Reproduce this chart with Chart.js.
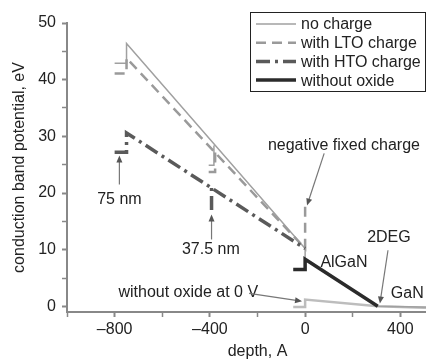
<!DOCTYPE html>
<html><head><meta charset="utf-8">
<script src="https://cdn.jsdelivr.net/npm/chart.js@4/dist/chart.umd.min.js"></script>
<style>
html,body{margin:0;padding:0;background:#fff;overflow:hidden;width:426px;height:361px}
#wrap{width:426px;height:361px;overflow:hidden;position:relative}
canvas{display:block}
</style></head>
<body><div id="wrap"><canvas id="c" width="451" height="361"></canvas></div>
<script>
// ---- series data (depth in A, potential in eV) ----
const noCharge75X = [-800, -750, -750, 0, 0, 305, 600];
const noCharge75Y = [42.9, 42.9, 46.4, 10.2, 8.3, 0, -0.2];
const noCharge37X = [-405, -383, -383];
const noCharge37Y = [24.9, 24.9, 28.4];
const lto75X = [-800, -750, -750, 0, 0];
const lto75Y = [41.1, 41.1, 43.8, 10.2, 17.6];
const lto37X = [-405, -378, -378];
const lto37Y = [23.7, 23.7, 27.2];
const hto75X = [-800, -750, -750, 0];
const hto75Y = [27.2, 27.2, 30.6, 10.2];
const hto37X = [-393, -393];
const hto37Y = [17.0, 20.9];
const noOxideX = [-50, 0, 0, 305];
const noOxideY = [6.5, 6.5, 8.3, 0];
const zeroVX = [-50, 0, 0, 305, 600];
const zeroVY = [-0.1, -0.1, 1.2, 0, -0.4];

// ---- ticks ----
const xTickValues = [-1000, -800, -600, -400, -200, 0, 200, 400, 600];
const xTickLabels = ['', '\u2013800', '', '\u2013400', '', '0', '', '400', ''];
const yTickValues = [0, 5, 10, 15, 20, 25, 30, 35, 40, 45, 50];
const yTickLabels = ['0', '', '10', '', '20', '', '30', '', '40', '', '50'];

// ---- legend / annotations ----
const legendNames = ['no charge', 'with LTO charge', 'with HTO charge', 'without oxide'];
const noteTexts = ['75 nm', '37.5 nm', 'without oxide at 0 V', 'negative fixed charge', 'AlGaN', '2DEG', 'GaN'];
const noteX = [-780, -396, -784, 163, 163, 352, 360];
const noteY = [18.9, 10.0, 2.5, 28.4, 7.8, 12.2, 2.3];
const noteAlign = ['center', 'center', 'left', 'center', 'center', 'center', 'left'];
const arrowFromX = [-780, -393, 80, 348, -235];
const arrowFromY = [21.5, 11.8, 27.0, 9.9, 2.3];
const arrowToX = [-780, -393, 8, 314, -13];
const arrowToY = [26.6, 16.2, 17.8, 0.5, 0.9];

const FONT = 'Liberation Sans, Arial, Helvetica, sans-serif';
const TXT = '#222';

function pts(xs, ys) { return xs.map((x, i) => ({x: x, y: ys[i]})); }
function joinSeg(a, b) { return a.concat([{x: b[0].x, y: null}], b); }

const datasets = [
  {label: 'without oxide', data: pts(noOxideX, noOxideY), borderColor: '#2b2b2b', borderWidth: 3.5, order: 0},
  {label: 'with HTO charge', data: joinSeg(pts(hto75X, hto75Y), pts(hto37X, hto37Y)), borderColor: '#5a5a5a', borderWidth: 3.5, borderDash: [14, 5, 3, 5], order: 1},
  {label: 'with LTO charge', data: joinSeg(pts(lto75X, lto75Y), pts(lto37X, lto37Y)), borderColor: '#9a9a9a', borderWidth: 2.5, borderDash: [10, 6], order: 2},
  {label: 'no charge', data: joinSeg(pts(noCharge75X, noCharge75Y), pts(noCharge37X, noCharge37Y)), borderColor: '#a0a0a0', borderWidth: 1.5, order: 3},
  {label: 'without oxide at 0 V', data: pts(zeroVX, zeroVY), borderColor: '#bdbdbd', borderWidth: 2.5, order: 4}
];
datasets.forEach(d => { d.pointRadius = 0; d.tension = 0; d.fill = false; d.spanGaps = false; d.borderCapStyle = 'butt'; d.borderJoinStyle = 'miter'; });

function arrow(ctx, x1, y1, x2, y2) {
  const a = Math.atan2(y2 - y1, x2 - x1), L = 7, W = 3;
  ctx.beginPath(); ctx.moveTo(x1, y1);
  ctx.lineTo(x2 - (L - 1) * Math.cos(a), y2 - (L - 1) * Math.sin(a)); ctx.stroke();
  ctx.beginPath(); ctx.moveTo(x2, y2);
  ctx.lineTo(x2 - L * Math.cos(a) + W * Math.sin(a), y2 - L * Math.sin(a) - W * Math.cos(a));
  ctx.lineTo(x2 - L * Math.cos(a) - W * Math.sin(a), y2 - L * Math.sin(a) + W * Math.cos(a));
  ctx.closePath(); ctx.fill();
}

const extras = {
  id: 'extras',
  afterDraw(chart) {
    const ctx = chart.ctx, xs = chart.scales.x, ys = chart.scales.y;
    ctx.save();
    ctx.font = '16px ' + FONT; ctx.fillStyle = TXT; ctx.textBaseline = 'middle';
    noteTexts.forEach((t, i) => {
      ctx.textAlign = noteAlign[i];
      ctx.fillText(t, xs.getPixelForValue(noteX[i]), ys.getPixelForValue(noteY[i]));
    });
    ctx.strokeStyle = '#777'; ctx.fillStyle = '#555'; ctx.lineWidth = 1.2;
    arrowFromX.forEach((v, i) => {
      arrow(ctx, xs.getPixelForValue(v), ys.getPixelForValue(arrowFromY[i]),
        xs.getPixelForValue(arrowToX[i]), ys.getPixelForValue(arrowToY[i]));
    });
    const bx = 250.5, by = 12.5, bw = 175, bh = 79, rowH = 18.7, y0 = 24;
    ctx.fillStyle = '#fff'; ctx.fillRect(bx, by, bw, bh);
    ctx.strokeStyle = '#222'; ctx.lineWidth = 1; ctx.setLineDash([]);
    ctx.strokeRect(bx, by, bw, bh);
    legendNames.forEach((name, i) => {
      const ds = chart.data.datasets.find(d => d.label === name);
      const y = y0 + i * rowH;
      ctx.save();
      ctx.strokeStyle = ds.borderColor; ctx.lineWidth = ds.borderWidth;
      ctx.setLineDash(ds.borderDash || []);
      ctx.beginPath(); ctx.moveTo(256, y); ctx.lineTo(296, y); ctx.stroke();
      ctx.restore();
      ctx.fillStyle = TXT; ctx.textAlign = 'left'; ctx.textBaseline = 'middle';
      ctx.font = '16px ' + FONT;
      ctx.fillText(name, 301, y + 1);
    });
    ctx.restore();
  }
};

const tickFont = {family: FONT, size: 16};
new Chart(document.getElementById('c'), {
  type: 'line',
  data: {datasets: datasets},
  plugins: [extras],
  options: {
    responsive: false, animation: false,
    layout: {padding: {top: 23, left: 0, right: 0, bottom: 0}},
    plugins: {legend: {display: false}, tooltip: {enabled: false}},
    scales: {
      x: {
        type: 'linear', min: -1000, max: 600,
        afterBuildTicks: s => { s.ticks = xTickValues.map(v => ({value: v})); },
        afterFit: s => { s.height = 49; },
        ticks: {autoSkip: false, maxRotation: 0, padding: 3, font: tickFont, color: TXT,
          callback: v => { const i = xTickValues.indexOf(v); return i >= 0 ? xTickLabels[i] : ''; }},
        grid: {drawOnChartArea: false, tickLength: 5, tickColor: '#888',
          tickWidth: c => (c.tick && c.tick.value % 400 === 0 ? 2 : 1.5)},
        border: {color: '#888', width: 2},
        title: {display: true, text: 'depth, A', font: tickFont, color: TXT, padding: 0}
      },
      y: {
        type: 'linear', min: -1, max: 50,
        afterBuildTicks: s => { s.ticks = yTickValues.map(v => ({value: v})); },
        afterFit: s => { s.width = 67; },
        ticks: {autoSkip: false, padding: 6, font: tickFont, color: TXT,
          callback: v => { const i = yTickValues.indexOf(v); return i >= 0 ? yTickLabels[i] : ''; }},
        grid: {drawOnChartArea: false, tickLength: 5, tickColor: '#888',
          tickWidth: c => (c.tick && c.tick.value % 10 === 0 ? 2 : 1.5)},
        border: {color: '#888', width: 2},
        title: {display: true, text: 'conduction band potential, eV', font: tickFont, color: TXT, padding: {top: 10, bottom: 0}}
      }
    }
  }
});
</script></body></html>
